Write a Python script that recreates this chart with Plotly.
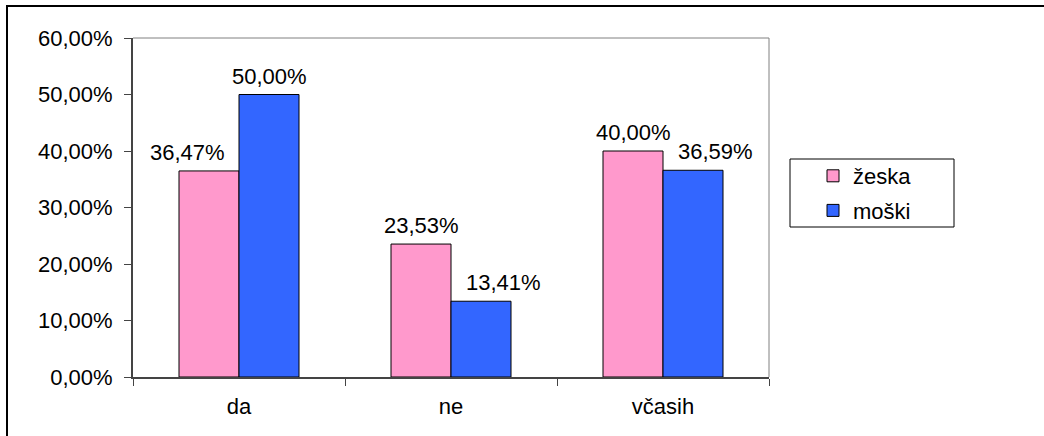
import plotly.graph_objects as go

# Survey answers by gender (share of respondents)
categories = ["da", "ne", "včasih"]
zenske = [0.3647, 0.2353, 0.4000]
moski = [0.5000, 0.1341, 0.3659]
series_names = ["žeska", "moški"]
y_ticks = [0, 0.1, 0.2, 0.3, 0.4, 0.5, 0.6]

FONT = "Liberation Sans, Arial, sans-serif"
FS = 22

# plot-area geometry in pixels
W, H = 1044, 436
L, R, T, B = 133, 275, 38, 59
PW, PH = W - L - R, H - T - B
BAR_PX = 60      # width of a single bar in pixels
NUDGE = 22       # sideways nudge for the label of the shorter bar in a pair


def px_x(px):
    return (px - L) / PW


def px_y(py):
    return (H - B - py) / PH


fig = go.Figure()
series = [(series_names[0], zenske, "#FF99CC", -1),
          (series_names[1], moski, "#3366FF", 1)]
for name, vals, color, side in series:
    fig.add_trace(go.Bar(
        x=categories, y=vals, name=name, legendgroup=name,
        marker=dict(color=color, line=dict(color="#000000", width=1)),
    ))

# value labels; the shorter bar's label is pushed outward so it clears its neighbour
for i, cat in enumerate(categories):
    pair = (zenske[i], moski[i])
    for j, (name, vals, color, side) in enumerate(series):
        v = vals[i]
        other = pair[1 - j]
        shift = side * BAR_PX / 2 + (side * NUDGE if v < other else 0)
        fig.add_annotation(
            x=cat, y=v, xref="x", yref="y",
            text=f"{v * 100:.2f}%".replace(".", ","),
            showarrow=False, yanchor="bottom", xanchor="center",
            xshift=shift, yshift=4,
            font=dict(family=FONT, size=FS, color="#000000"),
        )

fig.update_layout(
    width=W, height=H,
    margin=dict(l=L, r=R, t=T, b=B),
    paper_bgcolor="white", plot_bgcolor="white",
    separators=",.",
    barmode="group", bargap=0.434, bargroupgap=0,
    font=dict(family=FONT, size=FS, color="#000000"),
    showlegend=True,
    legend=dict(
        x=px_x(813), y=px_y(155), xanchor="left", yanchor="top",
        borderwidth=0, bgcolor="rgba(0,0,0,0)",
        font=dict(family=FONT, size=FS),
        itemwidth=30, traceorder="grouped", tracegroupgap=3,
    ),
    xaxis=dict(
        type="category", tickson="boundaries",
        showline=True, linecolor="#444444", linewidth=2,
        ticks="outside", ticklen=7, tickcolor="#444444", tickwidth=1,
        showgrid=False, zeroline=False,
        ticklabelstandoff=9,
    ),
    yaxis=dict(
        range=[0, 0.6], tickvals=y_ticks, tickformat=".2%",
        showline=True, linecolor="#444444", linewidth=2,
        ticks="outside", ticklen=7, tickcolor="#444444", tickwidth=1,
        showgrid=False, zeroline=False,
        ticklabelstandoff=7,
    ),
    shapes=[
        # plot-area frame on top and right
        dict(type="line", xref="paper", yref="paper", x0=0, x1=1, y0=1, y1=1,
             line=dict(color="#808080", width=1)),
        dict(type="line", xref="paper", yref="paper", x0=1, x1=1, y0=0, y1=1,
             line=dict(color="#808080", width=1)),
        # legend box
        dict(type="rect", xref="paper", yref="paper",
             x0=px_x(790), x1=px_x(954), y0=px_y(227), y1=px_y(159),
             line=dict(color="#000000", width=1)),
        # chart-area outline
        dict(type="rect", xref="paper", yref="paper",
             x0=px_x(7), x1=px_x(1060), y0=px_y(450), y1=px_y(6),
             line=dict(color="#000000", width=2), layer="below"),
    ],
)

fig.write_html("out.html")
